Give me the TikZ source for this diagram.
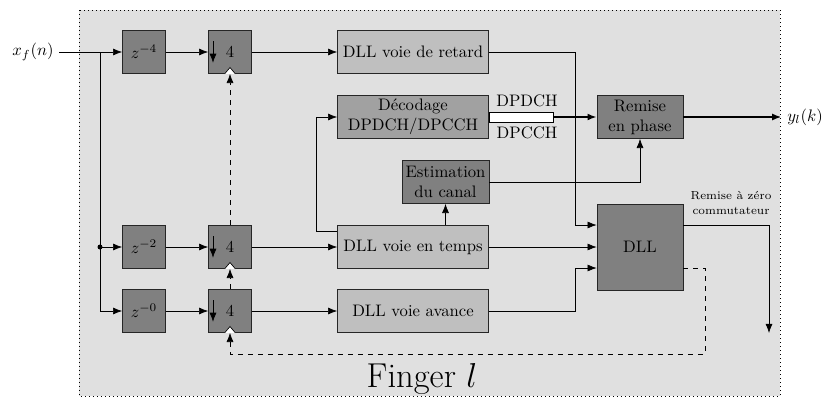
\documentclass[tikz,border=0pt]{standalone}
\usepackage{amsmath}
\usetikzlibrary{calc,arrows.meta}

\begin{document}
\begin{tikzpicture}[x=0.6pt,y=-0.6pt,
        bloc/.style={draw=black!85, fill=black!50, minimum width=25.8pt, minimum height=25.8pt, inner sep=1pt},
        voie/.style={draw=black!85, fill=black!25, minimum width=90.6pt, minimum height=25.8pt, inner sep=1pt},
        decod/.style={draw=black!85, fill=black!37, minimum width=90.6pt, minimum height=25.8pt, inner sep=1pt, align=center},
        fleche/.style={-{Latex[length=5.5pt,width=4.2pt]}},
        gros/.style={line width=1.6pt}]
    \useasboundingbox (0,0) rectangle (827,398);
    \draw[dotted, fill=black!12] (79,10) rectangle (780,396);
    % Below nodes are the blocks.
        \node[bloc] (z4) at (144,52) {$z^{-4}$};
        \node[bloc] (z2) at (144,247) {$z^{-2}$};
        \node[bloc] (z0) at (144,311) {$z^{-0}$};
        \node[bloc] (d4a) at (230,52) {4};
        \node[bloc] (d4b) at (230,247) {4};
        \node[bloc] (d4c) at (230,311) {4};
        \node[voie] (retard) at (413,52) {DLL voie de retard};
        \node[decod] (decod) at (413,117) {D\'ecodage\\DPDCH/DPCCH};
        \node[bloc, minimum width=52.2pt, align=center] (estim) at (445.5,182) {Estimation\\du canal};
        \node[voie] (temps) at (413,247) {DLL voie en temps};
        \node[voie] (avance) at (413,311) {DLL voie avance};
        \node[bloc, minimum width=51.6pt, align=center] (phase) at (640,117) {Remise\\en phase};
        \node[bloc, minimum width=51.6pt, minimum height=51.6pt] (dll) at (640,247) {DLL};
    % Below nodes are the labels.
        \node (xin) at (33,52) {$x_f(n)$};
        \node (yout) at (805,117) {$y_l(k)$};
        \node (dpdch) at (527,101) {DPDCH};
        \node (dpcch) at (527,133) {DPCCH};
        \node[font=\scriptsize, align=center] (rzlbl) at (731,203) {Remise \`a z\'ero\\[1.2pt]commutateur};
        \node[font=\huge] (finger) at (422,379) {Finger $l$};
    % Points where the lines turn.
        \coordinate (br) at (100,52);
        \coordinate (cd) at (316,117);
        \coordinate (mux) at (553,117);
        \coordinate (jr) at (575,225);
        \coordinate (ja) at (575,268);
        \coordinate (rz) at (769,333);
        \coordinate (bcl) at (705,354);
    % This draws the input side.
        \draw[fleche] (xin.east) -- (z4.west);
        \draw[fleche] (br) |- (z0.west);
        \fill (br |- z2) circle (1.5pt);
        \draw[fleche] (br |- z2) -- (z2.west);
        \draw[fleche] (z4) -- (d4a);
        \draw[fleche] (z2) -- (d4b);
        \draw[fleche] (z0) -- (d4c);
        \draw[fleche] (d4a) -- (retard);
        \draw[fleche] (d4b) -- (temps);
        \draw[fleche] (d4c) -- (avance);
    % This draws the decimators.
        \foreach \n in {d4a,d4b,d4c} {
            \draw[fleche] ([xshift=-10.2pt,yshift=6.5pt]\n.center) -- ([xshift=-10.2pt,yshift=-6.5pt]\n.center);
            \draw[fill=white] ([xshift=-3.2pt]\n.south) -- ++(3.2pt,3.8pt) -- ++(3.2pt,-3.8pt);
        }
        \draw[dashed, fleche] (d4b.north) -- (d4a.south);
        \draw[dashed, fleche] (d4c.north) -- (d4b.south);
        \draw[dashed, fleche] ([yshift=-12.6pt]dll.east) -| (bcl) -| (d4c.south);
    % This draws the middle part.
        \draw[fleche] ([yshift=9.6pt]temps.west) -| (cd) -- (decod.west);
        \draw[fleche] (temps.north -| estim.south) -- (estim.south);
        \draw[fleche] (estim.east) -| (phase.south);
        \draw[fill=white] ([yshift=3pt]decod.east) rectangle ([yshift=-3pt]mux);
        \draw[gros, fleche] (mux) -- (phase.west);
        \draw[gros, fleche] (phase.east) -- (yout.west);
    % This draws the DLL inputs and output.
        \draw[fleche] (retard.east) -| (jr) -- (jr -| dll.west);
        \draw[fleche] (temps.east) -- (dll.west);
        \draw[fleche] (avance.east) -| (ja) -- (ja -| dll.west);
        \draw[fleche] ([yshift=13.2pt]dll.east) -| (rz);
\end{tikzpicture}
\end{document}
